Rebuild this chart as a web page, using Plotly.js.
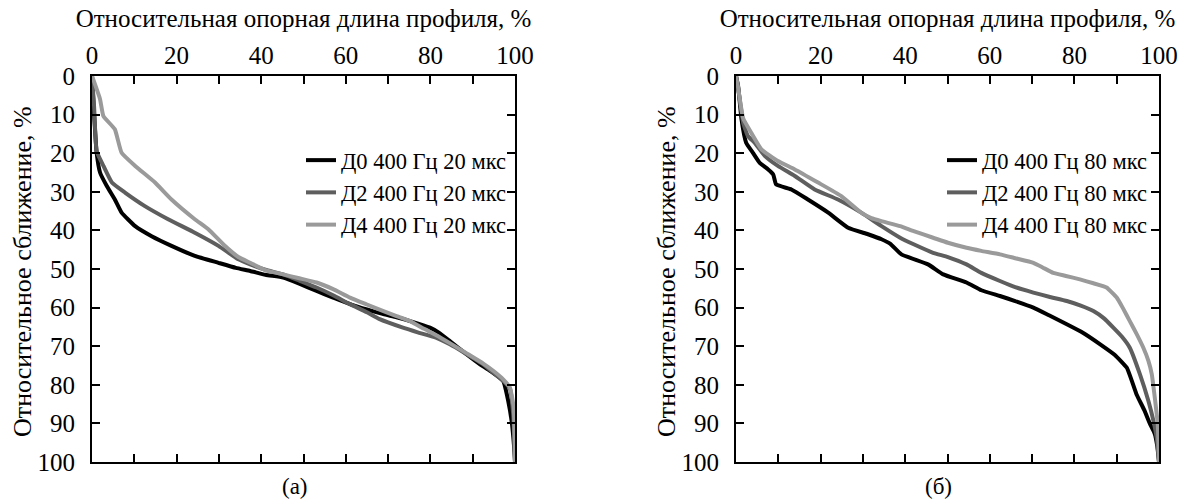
<!DOCTYPE html>
<html>
<head>
<meta charset="utf-8">
<script src="https://cdn.plot.ly/plotly-3.0.1.min.js"></script>
<style>html,body{margin:0;padding:0;background:#fff;font-family:'Liberation Serif';}#chart{width:1186px;height:499px;}</style>
</head>
<body>
<div id="chart"></div>
<script>
// ---- data ----
const xTickVals = [0,10,20,30,40,50,60,70,80,90,100];
const xTickText = ['0','','20','','40','','60','','80','','100'];
const yTickVals = [0,10,20,30,40,50,60,70,80,90,100];
const yTickText = ['0','10','20','30','40','50','60','70','80','90','100'];

const seriesNamesA = ['Д0 400 Гц 20 мкс','Д2 400 Гц 20 мкс','Д4 400 Гц 20 мкс'];
const seriesNamesB = ['Д0 400 Гц 80 мкс','Д2 400 Гц 80 мкс','Д4 400 Гц 80 мкс'];

// (а) 20 мкс
const aD0_x = [0,0.5,1.1,1.9,3.5,5.4,7.0,10.2,14.1,18.8,24.3,29.9,34,37.4,41,45.2,49,53.1,57,61,65,68.9,72,75.2,79.9,82,84.6,88.6,91.5,94.1,97.2,98.4,99.2,99.8,100];
const aD0_y = [0,10,19.9,25,28.5,32,35.4,38.9,41.5,44,46.6,48.4,49.7,50.5,51.5,52.2,53.8,55.7,57.4,59.1,60.5,61.7,62.5,63.5,65.2,66.5,68.7,72.1,74.5,76.4,79,84.2,89.4,96.3,100];
const aD2_x = [0,0.5,1.1,2.7,4.7,7.8,12.5,18,24.3,29.9,34.6,37.4,41,45.2,49,53.1,57,61,65,68,73.5,77,81.3,84.6,88.5,92.5,95,97.2,98.8,99.6,100];
const aD2_y = [0,8,19.5,23.3,27.6,30.2,33.7,37.1,40.6,44,47.5,48.8,50.2,51.4,53,54.8,56.8,59.1,61.2,63,65.2,66.4,67.8,69.5,72,74.7,77,79,81,88,100];
const aD4_x = [0,0.3,1.9,2.7,5.4,7,10.2,14.9,18.8,24.3,27.5,31.4,34.6,37.4,41,45.2,49,53.1,57,61,65,68.9,72,75.2,78.5,81.5,84.6,88.5,92.5,95,97.2,98.8,99.7,100];
const aD4_y = [0,0.9,6,10.4,13.8,19.9,23.3,27.6,32,37.1,39.7,44,46.9,48.4,50.3,51.4,52.4,53.5,55.2,57.4,59.2,60.9,62.2,63.5,65.5,67.2,69.2,71.8,74.5,76.5,78.6,80.7,86,100];

// (б) 80 мкс
const bD0_x = [0,0.5,1.3,2.4,4,5.6,7.6,8.8,9.5,13.1,17,21.8,26.5,31.2,34.4,36.5,39.1,45.4,49,54.5,58,62.4,66,70.3,74,78.2,82,86.1,89.5,92.4,94.7,96.5,97.9,99,99.6,100];
const bD0_y = [0,2.6,11.2,17.3,19.9,22.5,24.2,25.5,28.1,29.4,32,35.4,39.3,41,42.3,43.5,46.2,48.8,51.4,53.5,55.5,57,58.3,60,62,64.3,66.5,69.5,72.2,75.6,82.5,86.5,90.2,92.7,96,100];
const bD2_x = [0,0.5,1.7,2.8,4.4,6.8,9.9,13.9,18.6,24.1,29.6,34.4,38.8,42,46.6,50.1,54.5,58,62.4,66,70.3,74,78.2,81.5,84.5,87,89.2,91.2,93.1,95.5,97.5,98.7,99.5,100];
const bD2_y = [0,3,12.1,15.5,17.3,20.7,23.3,25.9,29.4,32,35.4,38.9,41.9,43.6,45.8,46.9,48.8,51,53.1,54.7,56.1,57.2,58.3,59.5,60.9,62.8,65.2,67.5,70.4,77.3,84.2,89.4,94,100];
const bD4_x = [0,0.5,1.7,3.6,6,9.9,13.9,19.4,24.9,29.6,32,34.4,38.8,42,46.6,50.1,54.5,58,62.4,66,70.3,72.5,75,78,81.3,84.5,87.6,90,91.5,93.1,94.7,96.3,97.5,98.3,99.1,99.7,100];
const bD4_y = [0,3,11,14.7,19,22,24.2,27.6,31.1,35.4,36.8,37.6,38.9,40.2,41.9,43.2,44.5,45.3,46.2,47.2,48.4,49.6,51,51.8,52.7,53.7,54.8,57.4,60.2,63.5,66.8,70.4,73.8,77.3,84.2,90,100];

// ---- styles ----
const colors = ['#000000','#5e5e5e','#9a9a9a'];
const FONT = 'Liberation Serif';
const W = 1186, H = 499;
const px = v => v / W;
const py = v => 1 - v / H;
const f = (s) => ({family: FONT, size: s, color: '#000'});

function tr(x, y, i, name, xa, ya, leg) {
  return {x: x, y: y, name: name, type: 'scatter', mode: 'lines',
    line: {color: colors[i], width: 4, shape: 'spline', smoothing: 0.4}, xaxis: xa, yaxis: ya, legend: leg};
}

const data = [
  tr(aD0_x, aD0_y, 0, seriesNamesA[0], 'x', 'y', 'legend'),
  tr(aD2_x, aD2_y, 1, seriesNamesA[1], 'x', 'y', 'legend'),
  tr(aD4_x, aD4_y, 2, seriesNamesA[2], 'x', 'y', 'legend'),
  tr(bD0_x, bD0_y, 0, seriesNamesB[0], 'x2', 'y2', 'legend2'),
  tr(bD2_x, bD2_y, 1, seriesNamesB[1], 'x2', 'y2', 'legend2'),
  tr(bD4_x, bD4_y, 2, seriesNamesB[2], 'x2', 'y2', 'legend2')
];

const xTitle = 'Относительная опорная длина профиля, %';
const yTitle = 'Относительное сближение, %';

function xAxis(dom, anchor) {
  return {domain: dom, anchor: anchor, range: [0, 100], side: 'top',
    tickvals: xTickVals, ticktext: xTickText, ticks: 'inside', ticklen: 8, tickwidth: 2,
    tickcolor: '#000', showline: true, linewidth: 2, linecolor: '#000', mirror: 'ticks',
    showgrid: false, zeroline: false, tickfont: f(25),
    ticklabelstandoff: 0,
    title: {text: xTitle, font: f(25), standoff: 7}};
}
function yAxis(anchor) {
  return {domain: [py(462), py(76)], anchor: anchor, range: [100, 0],
    tickvals: yTickVals, ticktext: yTickText, ticks: 'inside', ticklen: 8, tickwidth: 2,
    tickcolor: '#000', showline: true, linewidth: 2, linecolor: '#000', mirror: 'ticks',
    showgrid: false, zeroline: false, tickfont: f(25),
    ticklabelstandoff: 10};
}

const legendBase = {font: f(22.5), bgcolor: 'rgba(0,0,0,0)',
  borderwidth: 0, xanchor: 'right', yanchor: 'top', tracegroupgap: 0};

const layout = {
  width: W, height: H,
  margin: {l: 0, r: 0, t: 0, b: 0},
  paper_bgcolor: '#fff', plot_bgcolor: '#fff',
  font: f(23),
  showlegend: true,
  xaxis: xAxis([px(92), px(515)], 'y'),
  yaxis: yAxis('x'),
  xaxis2: xAxis([px(736), px(1159)], 'y2'),
  yaxis2: yAxis('x2'),
  legend: Object.assign({}, legendBase, {x: px(512), y: py(139)}),
  legend2: Object.assign({}, legendBase, {x: px(1153), y: py(139)}),
  annotations: [
    {text: yTitle, textangle: -90, x: px(22), y: py(272), xref: 'paper', yref: 'paper',
      showarrow: false, font: f(26), xanchor: 'center', yanchor: 'middle'},
    {text: yTitle, textangle: -90, x: px(666), y: py(272), xref: 'paper', yref: 'paper',
      showarrow: false, font: f(26), xanchor: 'center', yanchor: 'middle'},
    {text: '(а)', x: px(295), y: py(486), xref: 'paper', yref: 'paper', showarrow: false,
      font: f(23), xanchor: 'center', yanchor: 'middle'},
    {text: '(б)', x: px(938), y: py(486), xref: 'paper', yref: 'paper', showarrow: false,
      font: f(23), xanchor: 'center', yanchor: 'middle'}
  ]
};

function draw() {
  Plotly.newPlot('chart', data, layout, {displayModeBar: false, staticPlot: true});
}
if (document.fonts && document.fonts.load) {
  document.fonts.load('25px "Liberation Serif"', 'Отн0').then(draw, draw);
} else {
  draw();
}
</script>
</body>
</html>
